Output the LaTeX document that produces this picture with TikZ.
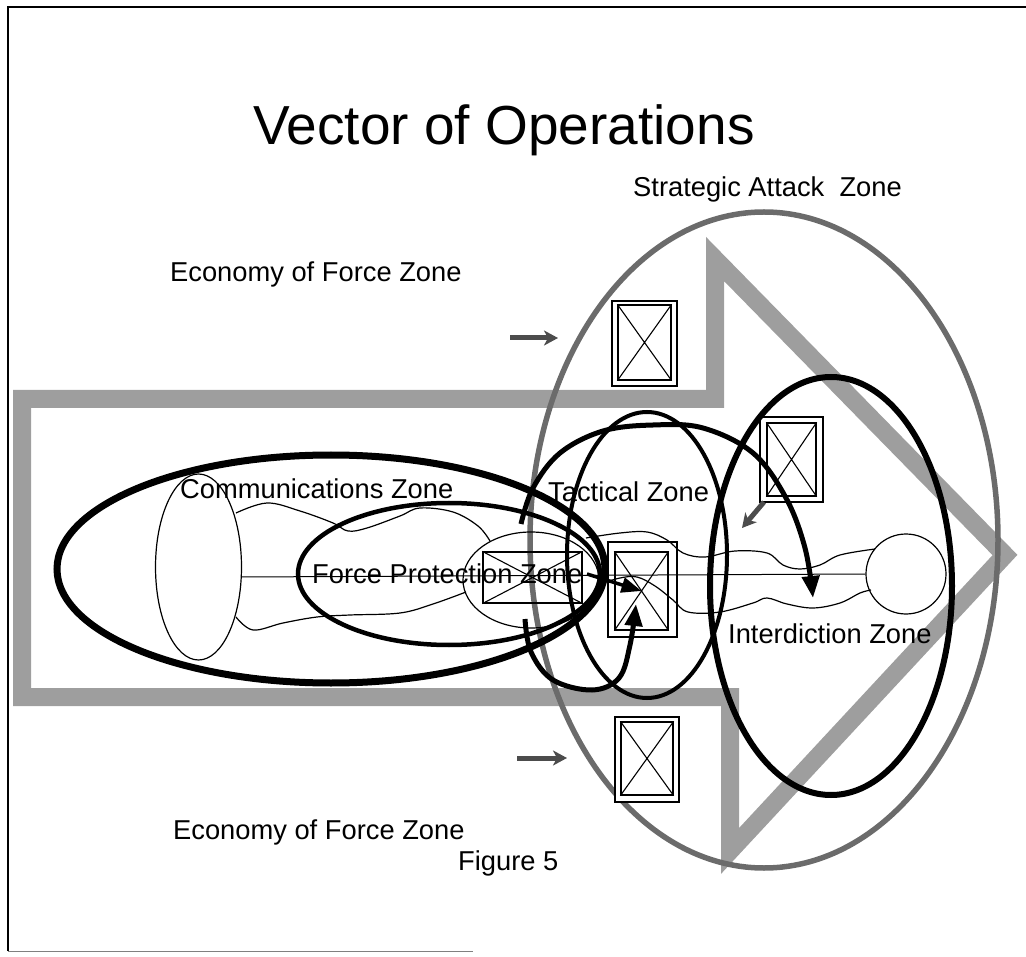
\documentclass[tikz,border=0pt]{standalone}
\usepackage{fontspec}
\setmainfont{Liberation Sans}
\usetikzlibrary{arrows.meta}

\begin{document}
\begin{tikzpicture}[x=1pt,y=-1pt,
  lbl/.style={inner sep=0pt, anchor=base west, font=\fontsize{27.3}{30}\selectfont},
  band/.style={draw=black!38, line width=18pt, line join=miter},
  stratring/.style={draw=black!58, line width=5.5pt},
  zone/.style={draw=black, line width=#1},
  fine/.style={draw=black, line width=1.2pt},
  unitbox/.style={draw=black, line width=1.3pt, inner sep=0pt, fill=white},
  bigtip/.style={-{Triangle[length=22pt,width=17pt]}},
  arcline/.style={draw=black, line width=5pt, bigtip},
  feint/.style={draw=black!70, line width=5pt,
                -{Stealth[length=14pt,width=15pt,inset=4pt]}}]

\useasboundingbox (0,0) rectangle (1026,957);

% frame
\draw[line width=2.5pt] (1026,7) -- (8,7) -- (8,951);
\draw[line width=1pt, black!50] (8,951) -- (473,951);

% hollow arrow of the line of operation
\draw[band] (22,399) -- (715,399) -- (715,259) -- (1005,555) -- (730,851)
  -- (730,697) -- (22,697) -- cycle;

% strategic attack zone
\coordinate (strat) at (764,540);
\draw[stratring] (strat) ellipse [x radius=234pt, y radius=328pt];

% manoeuvre units
\node[unitbox, minimum width=65pt, minimum height=85pt] (topo) at (644.5,343.5) {};
\node[unitbox, minimum width=53pt, minimum height=75pt] (topi) at (644.5,342.5) {};
\node[unitbox, minimum width=64pt, minimum height=85pt] (boto) at (647,759.5) {};
\node[unitbox, minimum width=52pt, minimum height=73pt] (boti) at (647,758.5) {};
\node[unitbox, minimum width=63pt, minimum height=85pt] (rgto) at (791.5,459.5) {};
\node[unitbox, minimum width=49pt, minimum height=73pt] (rgti) at (791.5,459.5) {};
\node[unitbox, minimum width=69pt, minimum height=95pt] (ceno) at (642.5,589.5) {};
\node[unitbox, minimum width=53pt, minimum height=78pt] (ceni) at (641.5,591) {};
\foreach \b in {topi,boti,rgti,ceni}
  \draw[line width=1.1pt] (\b.north west) -- (\b.south east) (\b.north east) -- (\b.south west);

% base, objective and corridor
\coordinate (base) at (198.5,567);
\draw[fine] (base) ellipse [x radius=43pt, y radius=93pt];
\node[draw, line width=1.2pt, circle, minimum size=80pt, inner sep=0pt] (ball) at (906,574) {};
\coordinate (fpc) at (531,580);
\draw[fine] (fpc) ellipse [x radius=68pt, y radius=48pt];
\node[draw, line width=1.2pt, inner sep=0pt, minimum width=99pt, minimum height=51pt] (fpbox) at (532.5,577.5) {};
\draw[line width=1.1pt] (fpbox.north west) -- (fpbox.south east) (fpbox.north east) -- (fpbox.south west);

\coordinate (axisL) at (241.5,577);
\draw[line width=1pt] (axisL) -- (ball.west);

\draw[fine] plot[smooth, tension=0.6] coordinates {(236,513) (267,503) (300,511) (333,523)
  (348,531) (367,528) (400,516) (420,508) (453,512) (478,526) (490,541)};
\draw[fine] plot[smooth, tension=0.6] coordinates {(586,538) (620,533) (647,532) (667,540)
  (683,553) (705,557) (735,551) (767,553) (783,565) (800,569) (820,565) (840,555) (875,549)};
\draw[fine] plot[smooth, tension=0.6] coordinates {(236,617) (253,630) (283,623) (317,617)
  (350,615) (400,613) (433,604) (466,592)};
\draw[fine] plot[smooth, tension=0.6] coordinates {(600,584) (620,578) (637,577) (655,586)
  (673,600) (688,612) (720,612) (753,603) (767,598) (787,604) (813,608) (840,603)
  (860,593) (871,590)};

% zones
\coordinate (comm) at (331,569);
\draw[zone=7pt] (comm) ellipse [x radius=274pt, y radius=114pt];
\coordinate (fpz) at (449,574);
\draw[zone=4.5pt] (fpz) ellipse [x radius=151pt, y radius=71pt];
\coordinate (tact) at (647,555);
\draw[zone=4pt] (tact) ellipse [x radius=80pt, y radius=143pt];
\coordinate (intd) at (831,586);
\draw[zone=6pt] (intd) ellipse [x radius=121pt, y radius=209pt];

% movements
\coordinate (upA) at (521,524);
\coordinate (upB) at (813,598);
\draw[arcline] plot[smooth, tension=0.6] coordinates {(upA) (533,488) (560,453) (603,431)
  (653,425) (703,428) (753,453) (786,498) (805,548) (upB)};
\coordinate (loA) at (525,619);
\coordinate (loB) at (636,604);
\draw[arcline] plot[smooth, tension=0.6] coordinates {(loA) (531,652) (553,680) (592,690)
  (619,678) (630,645) (loB)};
\coordinate (pushA) at (587,574);
\draw[line width=3.5pt, -{Triangle[length=20pt,width=15pt]}] (pushA) -- (ceni.center);

% feints
\coordinate (f1a) at (510,338); \coordinate (f1b) at (558,338);
\coordinate (f2a) at (517,758); \coordinate (f2b) at (567,758);
\coordinate (f3a) at (764,502); \coordinate (f3b) at (742,528);
\draw[feint] (f1a) -- (f1b);
\draw[feint] (f2a) -- (f2b);
\draw[feint] (f3a) -- (f3b);

% labels
\node[inner sep=0pt, anchor=base west, font=\fontsize{55}{60}\selectfont] (title) at (253,145) {Vector of Operations};
\node[lbl] (lsaz) at (633,197) {Strategic Attack\ \ Zone};
\node[lbl] (leco1) at (170,282) {Economy of Force Zone};
\node[lbl] (leco2) at (173,839) {Economy of Force Zone};
\node[lbl] (lfig) at (458,870) {Figure 5};
\node[lbl] (lcom) at (180,498) {Communications Zone};
\node[lbl] (lfp) at (312,583) {Force Protection Zone};
\node[lbl] (ltac) at (548,502) {Tactical Zone};
\node[lbl] (lint) at (728,643) {Interdiction Zone};
\end{tikzpicture}
\end{document}
